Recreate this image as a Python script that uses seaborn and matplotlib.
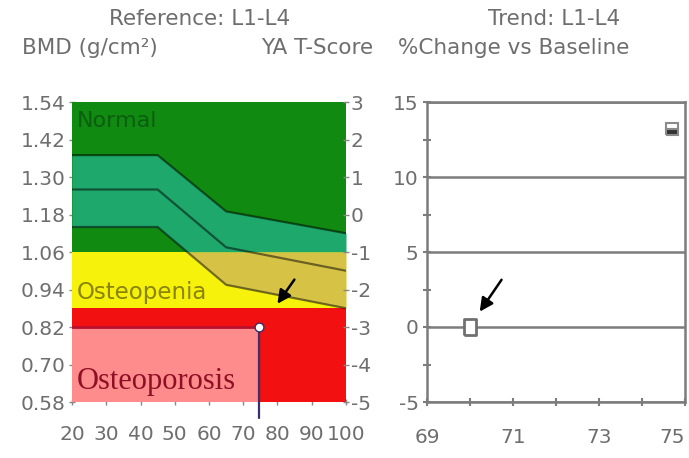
import matplotlib
matplotlib.use("Agg")
import matplotlib.pyplot as plt
import seaborn as sns
import numpy as np

# reference curve (BMD, g/cm2) by age
ref_age = [20, 45, 65, 100]
ref_upper = [1.37, 1.37, 1.19, 1.12]
ref_mean = [1.26, 1.26, 1.075, 1.00]
ref_lower = [1.14, 1.14, 0.955, 0.88]

# zone cut-offs
bmd_min, bmd_max = 0.58, 1.54
normal_cut = 1.06      # T = -1
porosis_cut = 0.88     # T = -2.5

# patient
patient_age = 74.7
patient_bmd = 0.82

# trend panel
trend_age = [70.0, 74.7]
trend_change = [0.0, 13.2]

bmd_ticks = [0.58, 0.70, 0.82, 0.94, 1.06, 1.18, 1.30, 1.42, 1.54]
t_ticks = [-5, -4, -3, -2, -1, 0, 1, 2, 3]
age_ticks = [20, 30, 40, 50, 60, 70, 80, 90, 100]
trend_xticks = [69, 71, 73, 75]
trend_yticks = [-5, 0, 5, 10, 15]

sns.set_style("white")
plt.rcParams['font.family'] = ['DejaVu Sans']
plt.rcParams['axes.unicode_minus'] = False

txt = '#6e6e6e'
W, H = 689, 458
fig = plt.figure(figsize=(W / 100, H / 100), dpi=100)

def px_axes(x0, y0, x1, y1):
    return fig.add_axes([x0 / W, 1 - y1 / H, (x1 - x0) / W, (y1 - y0) / H])

# ---------------- left panel ----------------
ax = px_axes(72, 102, 346, 402)
ax.axhspan(normal_cut, bmd_max, color='#118a12', lw=0)
ax.axhspan(porosis_cut, normal_cut, color='#f7f20c', lw=0)
ax.axhspan(bmd_min, porosis_cut, color='#f31010', lw=0)

grid = np.linspace(20, 100, 500)
up = np.interp(grid, ref_age, ref_upper)
lo = np.interp(grid, ref_age, ref_lower)
ax.fill_between(grid, np.maximum(lo, normal_cut), np.maximum(up, normal_cut),
                color='#1ea86c', lw=0)
ax.fill_between(grid, np.clip(lo, porosis_cut, normal_cut), np.clip(up, porosis_cut, normal_cut),
                color='#d6c346', lw=0)

for curve in (ref_upper, ref_mean, ref_lower):
    sns.lineplot(x=ref_age, y=curve, ax=ax, color='black', alpha=0.5, lw=1.6)

# highlight of patient position
ax.fill_between([20, patient_age], bmd_min, patient_bmd, color='#ff8c8c', lw=0)
ax.plot([20, patient_age], [patient_bmd, patient_bmd], color='#b8102c', lw=2)
ax.plot([patient_age, patient_age], [patient_bmd, bmd_min - 0.05], color='#3a2f6a', lw=1.6,
        clip_on=False, zorder=5)
sns.scatterplot(x=[patient_age], y=[patient_bmd], ax=ax, marker='o', s=40,
                color='white', edgecolor='#3a2f6a', linewidth=1, zorder=6)

ax.annotate('', xy=(79.5, 0.887), xytext=(85.4, 0.979),
            arrowprops=dict(arrowstyle='-|>', color='black', lw=1.8, mutation_scale=20))

ax.text(21.5, 1.48, 'Normal', color='#0b5e10', fontsize=16, va='center')
ax.text(21.5, 0.932, 'Osteopenia', color='#8a8400', fontsize=16.5, va='center')
ax.text(21.5, 0.646, 'Osteoporosis', color='#8e1024', fontsize=22, va='center',
        family='Liberation Serif')

ax.set_xlim(20, 100)
ax.set_ylim(bmd_min, bmd_max)
ax.set_xticks(age_ticks)
ax.set_xticklabels([str(a) for a in age_ticks])
ax.set_yticks(bmd_ticks)
ax.set_yticklabels([f"{b:.2f}" for b in bmd_ticks])
for s in ax.spines.values():
    s.set_visible(False)
ax.tick_params(direction='inout', length=5, width=1, color='#888888',
               labelcolor=txt, labelsize=14.5, pad=2, left=True, bottom=True)
ax.tick_params(axis='x', pad=14)

axt = ax.twinx()
axt.set_ylim(-5, 3)
axt.set_yticks(t_ticks)
axt.set_yticklabels([str(t) for t in t_ticks])
for s in axt.spines.values():
    s.set_visible(False)
axt.tick_params(direction='inout', length=5, width=1, color='#888888',
                labelcolor=txt, labelsize=14.5, pad=1, right=True)

# ---------------- right panel ----------------
ax2 = px_axes(427, 102, 685, 402)
ax2.set_xlim(69, 75)
ax2.set_ylim(-5, 15)
ax2.set_xticks(trend_xticks)
ax2.set_xticklabels([str(t) for t in trend_xticks])
ax2.get_xticklabels()[-1].set_ha('right')
ax2.set_xticks([70, 72, 74], minor=True)
ax2.set_yticks(trend_yticks)
ax2.set_yticklabels([str(t) for t in trend_yticks])
ax2.set_yticks([-2.5, 2.5, 7.5, 12.5], minor=True)
ax2.grid(axis='y', which='major', color='#7c7c7c', lw=1.8)
for s in ax2.spines.values():
    s.set_color('#7c7c7c')
    s.set_linewidth(1.8)
ax2.tick_params(which='both', direction='inout', length=6, width=1.5, color='#7c7c7c',
                labelcolor=txt, labelsize=14.5, pad=3, left=True, bottom=True)
ax2.tick_params(axis='x', pad=16)

sns.scatterplot(x=trend_age[:1], y=trend_change[:1], ax=ax2,
                marker=[(-0.7, -1), (0.7, -1), (0.7, 1), (-0.7, 1), (-0.7, -1)],
                s=140, color='white', edgecolor='#707070', linewidth=2, zorder=5)
ax2.plot(trend_age[1:], trend_change[1:], marker='s', ms=8, ls='none',
         fillstyle='bottom', markerfacecolor='#333333', markerfacecoloralt='white',
         markeredgecolor='#8a8a8a', markeredgewidth=1.5, zorder=5, clip_on=False)

ax2.annotate('', xy=(70.19, 0.87), xytext=(70.77, 3.3),
             arrowprops=dict(arrowstyle='-|>', color='black', lw=1.8, mutation_scale=20))

# ---------------- titles ----------------
def ftext(x, y, s, **kw):
    fig.text(x / W, 1 - y / H, s, color=txt, fontsize=15.5, va='center', **kw)

ftext(200, 19, 'Reference: L1-L4', ha='center')
ftext(22, 48, 'BMD (g/cm²)', ha='left')
ftext(373, 48, 'YA T-Score', ha='right')
ftext(554, 19, 'Trend: L1-L4', ha='center')
ftext(398, 48, '%Change vs Baseline', ha='left')

fig.savefig('out.png', dpi=100)
